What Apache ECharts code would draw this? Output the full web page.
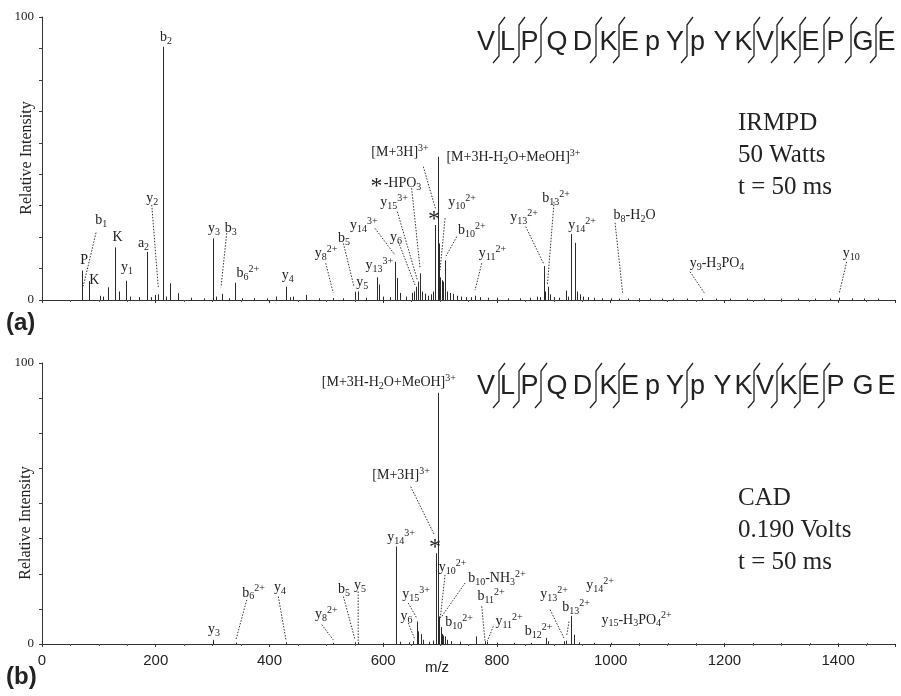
<!DOCTYPE html>
<html><head><meta charset="utf-8">
<script src="https://cdn.jsdelivr.net/npm/echarts@6/dist/echarts.min.js"></script>
<style>html,body{margin:0;padding:0;background:#fff}#c{width:901px;height:696px}</style>
</head><body><div id="c"></div>
<script>
// ---------- DATA ----------
// (a) IRMPD spectrum: m/z and relative intensity
const mzA = [69.8,83.2,102,108,116.6,129,135.4,147.2,155,170,184.1,191,198.7,204.6,212.2,218,225,239.8,262,285,301.3,306,316,328,340,352,373,395,411.5,428.6,436,442,465,487,512,530,550.2,556,570,588.6,592,600,612,621,625,630,640,650,655,658,661,665,669,673,678,684,688,691.5,695.5,698,700.5,703,706,709.5,713,718,723,729,737,745,755,762,770,785,800,820,840,858,870,876,882,885,889.6,894,900,910,921,925,929.8,936.8,941,946,952,960,970,985,1000,1015,1030,1050,1070,1090,1110,1135,1160,1185,1210,1240,1270,1300,1330,1360,1385,1402,1425,1445,1470];
const intA = [10.4,6.7,1.5,1.2,4.5,18.6,3,6.8,1.2,1,17,1,1.8,2,89.5,1.2,5.9,2.4,0.8,0.6,21.8,1.2,2.2,0.6,6.1,0.6,0.7,0.6,1.2,4.7,1,1.2,1.8,0.6,0.7,0.6,2.9,3,0.8,8,5.5,1.2,1,13.5,7.8,2.5,1.2,2.5,3,4.7,6.5,9.4,3,2.2,1.5,2,3,26.5,50.6,20,8,7,6.5,14,3,2.5,2.2,1.5,1.2,1,1,1.5,1,0.8,0.8,0.6,0.6,0.8,1.2,1,12,3,4.7,2,1,0.8,3.3,1.2,23.3,20.2,3,2,1.2,1,0.8,0.6,0.6,0.5,0.5,0.6,0.5,0.5,0.5,0.5,0.6,0.5,0.5,0.5,0.5,0.5,0.5,0.5,0.5,0.8,0.6,0.5,0.5];
// (b) CAD spectrum
const mzB = [301.3,341,429,512,550,556,600,622,630,645,652,659,662,666,670,680,688,692.4,696,698.6,701,703,706,709,713,720,735,763,779,783,800,830,860,887,890,918,922,930.4,935.6,945,970,1000,1050,1100,1150,1200,1250,1300,1350,1400,1450];
const intB = [1.5,0.5,0.6,0.4,0.6,0.6,0.4,34.7,0.8,0.6,1,8,4.5,3.5,1.5,0.8,1.2,32.3,89.4,9.8,6,3.6,3,2.7,1.5,1,0.8,2.7,1,0.8,0.5,0.4,0.4,2.2,1,1,1.2,10,3.3,0.6,0.4,0.4,0.3,0.3,0.3,0.3,0.3,0.3,0.3,0.3,0.3];

const xTickValues = [0,200,400,600,800,1000,1200,1400];
const yTickLabels = ['0','100'];

// Peak annotations: text, label anchor [m/z, intensity]
const labelsA = [
 ['b_{2}',218,92.9],['b_{1}',104,28.3],['P',74,14.1],['K',92,7.1],['K',133,22.3],
 ['y_{1}',149.5,11.7],['a_{2}',178.5,20.1],['y_{2}',194,36],['y_{3}',302.5,25.4],['b_{3}',332,25.4],
 ['b_{6}^{2+}',362,9.5],['y_{4}',432,8.8],['y_{8}^{2+}',499.5,16.6],['b_{5}',531,21.9],['y_{5}',563,6.4],
 ['y_{13}^{3+}',593,12.4],['y_{14}^{3+}',566,26.5],['y_{6}',622.5,22.3],['y_{15}^{3+}',619,34.6],
 ['*',588,39.9],['-HPO_{3}',634,41.3],['[M+3H]^{3+}',629.6,52.3],['[M+3H-H_{2}O+MeOH]^{3+}',829,50.5],
 ['*',689.4,28.3],['y_{10}^{2+}',738.7,34.6],['b_{10}^{2+}',756,24.7],['y_{11}^{2+}',792,16.6],
 ['y_{13}^{2+}',847.7,29.3],['b_{13}^{2+}',904,36],['y_{14}^{2+}',949.7,26.5],['b_{8}-H_{2}O',1042,30],
 ['y_{9}-H_{3}PO_{4}',1187,13.1],['y_{10}',1423,16.6]
];
const labelsB = [
 ['[M+3H-H_{2}O+MeOH]^{3+}',610,93.1],['[M+3H]^{3+}',631.4,60.1],['y_{14}^{3+}',631.4,38.1],
 ['b_{6}^{2+}',372,18.2],['y_{4}',418.6,20],['b_{5}',531,19.3],['y_{5}',559,21],['y_{8}^{2+}',500,10.4],
 ['y_{3}',302.5,5.1],['y_{15}^{3+}',657.8,17.5],['y_{6}',641,9.7],['*',691,34.2],['y_{10}^{2+}',722,27.4],
 ['b_{10}-NH_{3}^{2+}',800,23.5],['b_{10}^{2+}',733.4,7.6],['b_{11}^{2+}',789.6,16.8],['y_{11}^{2+}',821.3,7.9],
 ['b_{12}^{2+}',873,4.4],['y_{13}^{2+}',900.5,17.5],['b_{13}^{2+}',939,12.9],['y_{14}^{2+}',981.4,21],
 ['y_{15}-H_{3}PO_{4}^{2+}',1045.6,8.6]
];
// Dotted leader lines: [m/z1, int1, m/z2, int2]
const leadersA = [
 [95,23.8,72.6,4.9],[193,33.6,204.5,4.5],[324.8,23.6,314.8,4.5],[499,13,512,2.6],[530,20,548.7,4.7],
 [585.6,25.3,620.8,15.9],[626.6,20.6,656,5.3],[624.9,31.2,660,7.1],[650,39.5,664.8,11.2],
 [670.6,47.1,691.7,32.4],[708.8,28.9,700,10.6],[729.3,22.4,710.5,15.5],[773.3,13,761.5,3.5],
 [850.7,25.9,881.7,13],[900.5,34.7,888.7,5.3],[1007.7,27.3,1021,2.6],[1139.6,10,1166,2.1],[1415,13.5,1402,2.4]
];
const leadersB = [
 [360,15.7,341,1.5],[415.6,16.9,429,1.5],[492,6.9,512,1.5],[530,16.9,550.5,1.5],[556,18.7,556,1],
 [644,14.6,659,9.2],[644,7.5,656,1.5],[648.4,56,690,38.8],[708.8,24.6,700,8.6],[744,21.7,703,9.8],
 [773.3,13.4,779,1],[793.7,6.3,783,1],[893.4,12.2,918,2.1],[926.8,8,922.8,3.3]
];
const seqLetters = 'VLPQDKEpYpYKVKEPGE'.split('');
const cutsA = [0,1,2,4,5,8,11,12,13,14,15,16];   // cleavage after residue index
const cutsB = [0,1,2,4,5,8,11,12,13,14];

// ---------- LAYOUT ----------
const seqX = [486,507.5,529.5,557,582.5,608.5,630,652.5,675,697.5,722.5,743.5,765,788.5,810.5,835.5,863,886.5];
const cutX = {0:499,1:519,2:541,4:596,5:619,8:687,11:754,12:777,13:800,14:824,15:851,16:876};

const SERIF = '"Liberation Serif","Times New Roman",serif';
const SANS = '"Liberation Sans",Arial,sans-serif';
const INK = '#222';

function toRich(s){
  if (s === '*') return '{star|*}';
  let out = '', i = 0;
  while (i < s.length){
    if ((s[i]==='_'||s[i]==='^') && s[i+1]==='{'){
      const j = s.indexOf('}', i);
      out += '{' + (s[i]==='_'?'sub':'sup') + '|' + s.slice(i+2, j) + '}';
      i = j + 1;
    } else {
      let j = i;
      while (j < s.length && !((s[j]==='_'||s[j]==='^') && s[j+1]==='{')) j++;
      out += '{n|' + s.slice(i, j) + '}';
      i = j;
    }
  }
  return out;
}
const richStyles = {
  n:   {fontSize:14, fontFamily:SERIF, lineHeight:18, verticalAlign:'middle', fill:INK},
  sub: {fontSize:10, fontFamily:SERIF, lineHeight:10, verticalAlign:'bottom', fill:INK},
  sup: {fontSize:10, fontFamily:SERIF, lineHeight:10, verticalAlign:'top', fill:INK},
  star:{fontSize:24, fontFamily:SERIF, lineHeight:18, verticalAlign:'middle', fill:INK}
};

function peakItem(params, api){
  const p0 = api.coord([api.value(0), 0]);
  const p1 = api.coord([api.value(0), api.value(1)]);
  const x = Math.round(p0[0]) + 0.5;
  return {type:'line', shape:{x1:x, y1:p0[1], x2:x, y2:p1[1]}, style:{stroke:'#2a2a2a', lineWidth:1}};
}
function leaderItem(params, api){
  const a = api.coord([api.value(0), api.value(1)]);
  const b = api.coord([api.value(2), api.value(3)]);
  return {type:'line', shape:{x1:a[0], y1:a[1], x2:b[0], y2:b[1]}, style:{stroke:'#333', lineWidth:1, lineDash:[1.5,1.5]}};
}
function makeLabelItem(list){
  return function(params, api){
    const p = api.coord([api.value(0), api.value(1)]);
    const txt = toRich(list[params.dataIndex][0]);
    return {type:'text', x:p[0], y:p[1], style:{text:txt, rich:richStyles, align:'center', verticalAlign:'middle', textAlign:'center', textVerticalAlign:'middle', fill:INK}};
  };
}

function xAxisDef(grid, showLabels){
  return {type:'value', gridIndex:grid, min:0, max:1500, interval:200,
    axisLine:{show:true, lineStyle:{color:'#333', width:1}},
    axisTick:{show:true, length:3, lineStyle:{color:'#333'}},
    minorTick:{show:true, splitNumber:4, length:2, lineStyle:{color:'#555'}},
    splitLine:{show:false},
    axisLabel:{show:showLabels, showMaxLabel:false, color:INK, fontFamily:SANS, fontSize:15, margin:9,
      formatter:function(v){ return xTickValues.indexOf(v) >= 0 ? String(v) : ''; }}};
}
function yAxisDef(grid, minorSplit){
  return {type:'value', gridIndex:grid, min:0, max:100, interval:100,
    axisLine:{show:true, lineStyle:{color:'#333', width:1}},
    axisTick:{show:true, length:3, lineStyle:{color:'#333'}},
    minorTick:{show:true, splitNumber:minorSplit, length:3, lineStyle:{color:'#444'}},
    splitLine:{show:false},
    axisLabel:{show:true, color:INK, fontFamily:SERIF, fontSize:13, margin:8,
      formatter:function(v){ return v===0 ? yTickLabels[0] : (v===100 ? yTickLabels[1] : ''); }}};
}

// graphic: sequences, condition text, panel letters
const graphics = [];
function addSequence(cy, cuts, yTop, yBot){
  seqLetters.forEach(function(ch, i){
    graphics.push({type:'text', x:seqX[i], y:cy, silent:true,
      style:{text:ch, font:'27px '+SANS, fill:INK, align:'center', verticalAlign:'middle', textAlign:'center', textVerticalAlign:'middle'}});
  });
  cuts.forEach(function(c){
    const x = cutX[c];
    graphics.push({type:'polyline', silent:true,
      shape:{points:[[x+6,yTop],[x,yTop+8],[x,yBot-7],[x-6,yBot]]},
      style:{stroke:INK, lineWidth:1.3, fill:null}});
  });
}
addSequence(43, cutsA, 17, 63);
addSequence(387, cutsB, 363, 408);
function addText(x, y, t, font, extra){
  graphics.push(Object.assign({type:'text', x:x, y:y, silent:true,
    style:{text:t, font:font, fill:INK, align:'left', verticalAlign:'middle', textAlign:'left', textVerticalAlign:'middle'}}, extra||{}));
}
addText(738,123,'IRMPD','25px '+SERIF);
addText(738,155,'50 Watts','25px '+SERIF);
addText(738,187,'t = 50 ms','25px '+SERIF);
addText(738,498,'CAD','25px '+SERIF);
addText(738,530,'0.190 Volts','25px '+SERIF);
addText(738,562,'t = 50 ms','25px '+SERIF);
addText(6,323,'(a)','bold 24px '+SANS);
addText(6,677,'(b)','bold 24px '+SANS);
graphics.push({type:'text', x:437, y:668, silent:true, style:{text:'m/z', font:'15px '+SANS, fill:INK, align:'center', verticalAlign:'middle', textAlign:'center', textVerticalAlign:'middle'}});
[[27,158],[26,523]].forEach(function(p){
  graphics.push({type:'text', x:p[0], y:p[1], rotation:Math.PI/2, silent:true,
    style:{text:'Relative Intensity', font:'16px '+SERIF, fill:INK, align:'center', verticalAlign:'middle', textAlign:'center', textVerticalAlign:'middle'}});
});

const chart = echarts.init(document.getElementById('c'), null, {renderer:'canvas'});
chart.setOption({
  backgroundColor:'#fff',
  animation:false,
  grid:[{left:42, right:6, top:17, height:283}, {left:42, right:6, top:363, height:281}],
  xAxis:[xAxisDef(0,false), xAxisDef(1,true)],
  yAxis:[yAxisDef(0,9), yAxisDef(1,8)],
  graphic: graphics,
  series:[
    {type:'custom', xAxisIndex:0, yAxisIndex:0, silent:true, renderItem:peakItem, data:mzA.map(function(m,i){return [m,intA[i]];})},
    {type:'custom', xAxisIndex:1, yAxisIndex:1, silent:true, renderItem:peakItem, data:mzB.map(function(m,i){return [m,intB[i]];})},
    {type:'custom', xAxisIndex:0, yAxisIndex:0, silent:true, renderItem:leaderItem, data:leadersA},
    {type:'custom', xAxisIndex:1, yAxisIndex:1, silent:true, renderItem:leaderItem, data:leadersB},
    {type:'custom', xAxisIndex:0, yAxisIndex:0, silent:true, clip:false, renderItem:makeLabelItem(labelsA), data:labelsA.map(function(l){return [l[1],l[2]];})},
    {type:'custom', xAxisIndex:1, yAxisIndex:1, silent:true, clip:false, renderItem:makeLabelItem(labelsB), data:labelsB.map(function(l){return [l[1],l[2]];})}
  ]
});
</script></body></html>
